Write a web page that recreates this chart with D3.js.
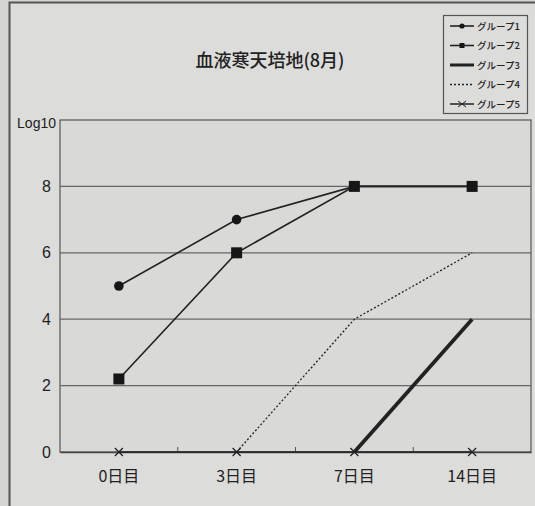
<!DOCTYPE html>
<html lang="ja">
<head>
    <meta charset="UTF-8">
    <title>血液寒天培地(8月)</title>
    <script src="https://d3js.org/d3.v7.min.js"></script>
    <style>
        body { margin: 0; background: #d5d5d3; }
        text { font-family: "Liberation Sans", Arial, sans-serif; fill: #222; }
        .jp { font-family: "Noto Sans CJK JP", sans-serif; }
    </style>
</head>
<body>
    <svg width="535" height="506"></svg>

    <script>
        // Categories and series (log10 counts)
        const days = ["0日目", "3日目", "7日目", "14日目"];
        const group1 = [5, 7, 8, 8];
        const group2 = [2.2, 6, 8, 8];
        const group3 = [null, null, 0, 4];
        const group4 = [null, 0, 4, 6];
        const group5 = [0, 0, 0, 0];
        const yTicks = [0, 2, 4, 6, 8];
        const legendNames = ["グループ1", "グループ2", "グループ3", "グループ4", "グループ5"];

        const svg = d3.select("svg");
        const plot = { left: 60, right: 531, top: 120, bottom: 452 };

        // outer frame
        svg.append("rect")
            .attr("x", 9.5).attr("y", 2.5)
            .attr("width", 540).attr("height", 520)
            .attr("fill", "#dcdcda")
            .attr("stroke", "#555").attr("stroke-width", 2);

        const x = d3.scaleBand().domain(days).range([plot.left, plot.right]);
        const y = d3.scaleLinear().domain([0, 10]).range([plot.bottom, plot.top]);
        const cx = d => x(d) + x.bandwidth() / 2;

        // plot area frame
        svg.append("rect")
            .attr("x", plot.left).attr("y", plot.top)
            .attr("width", plot.right - plot.left).attr("height", plot.bottom - plot.top)
            .attr("fill", "#d9d9d7")
            .attr("stroke", "#555").attr("stroke-width", 1.2);

        // horizontal gridlines
        svg.append("g").selectAll("line")
            .data(yTicks.filter(t => t > 0))
            .join("line")
            .attr("x1", plot.left).attr("x2", plot.right)
            .attr("y1", d => y(d)).attr("y2", d => y(d))
            .attr("stroke", "#666").attr("stroke-width", 1.2);

        // y axis labels
        const yAxis = svg.append("g")
            .attr("transform", `translate(${plot.left},0)`)
            .call(d3.axisLeft(y).tickValues(yTicks).tickSize(0).tickPadding(9));
        yAxis.select(".domain").remove();
        yAxis.selectAll("text")
            .style("font-family", "'Liberation Sans', Arial, sans-serif")
            .style("font-size", "16px").attr("fill", "#222");

        svg.append("text")
            .attr("x", 56).attr("y", 128)
            .attr("text-anchor", "end")
            .style("font-size", "14px")
            .text("Log10");

        // x axis (tick marks between categories)
        const xAxis = svg.append("g")
            .attr("transform", `translate(0,${plot.bottom})`)
            .call(d3.axisBottom(x).tickSize(0).tickPadding(19));
        xAxis.select(".domain").attr("stroke", "#444").attr("stroke-width", 1.5);
        xAxis.selectAll("text")
            .attr("class", "jp")
            .style("font-family", "'Noto Sans CJK JP', sans-serif")
            .style("font-size", "16px").attr("fill", "#222");
        svg.append("g").selectAll("line")
            .data(days.slice(1))
            .join("line")
            .attr("x1", d => x(d)).attr("x2", d => x(d))
            .attr("y1", plot.bottom).attr("y2", plot.bottom - 5)
            .attr("stroke", "#555").attr("stroke-width", 1);

        // title
        svg.append("text")
            .attr("class", "jp")
            .attr("x", 270).attr("y", 67)
            .attr("text-anchor", "middle")
            .style("font-size", "18px").style("font-weight", "500")
            .text("血液寒天培地(8月)");

        const line = d3.line()
            .defined(d => d.v !== null)
            .x(d => cx(d.day))
            .y(d => y(d.v));
        const pts = vals => days.map((day, i) => ({ day: day, v: vals[i] }));

        const series = [
            { vals: group5, width: 1.5, dash: null, marker: "x" },
            { vals: group4, width: 1.3, dash: "2,2", marker: null },
            { vals: group3, width: 3.8, dash: null, marker: null },
            { vals: group1, width: 1.6, dash: null, marker: "circle" },
            { vals: group2, width: 1.6, dash: null, marker: "square" }
        ];

        function drawMarker(g, type, px, py) {
            if (type === "circle") {
                g.append("circle").attr("cx", px).attr("cy", py).attr("r", 4.8).attr("fill", "#161616");
            } else if (type === "square") {
                g.append("rect").attr("x", px - 5.5).attr("y", py - 5.5)
                    .attr("width", 11).attr("height", 11).attr("fill", "#161616");
            } else if (type === "x") {
                g.append("path")
                    .attr("d", `M${px - 4},${py - 4}L${px + 4},${py + 4}M${px - 4},${py + 4}L${px + 4},${py - 4}`)
                    .attr("stroke", "#222").attr("stroke-width", 1.3);
            }
        }

        series.forEach(s => {
            const g = svg.append("g");
            g.append("path")
                .datum(pts(s.vals))
                .attr("fill", "none")
                .attr("stroke", "#222")
                .attr("stroke-width", s.width)
                .attr("stroke-dasharray", s.dash)
                .attr("d", line);
            if (s.marker) {
                pts(s.vals).filter(d => d.v !== null)
                    .forEach(d => drawMarker(g, s.marker, cx(d.day), y(d.v)));
            }
        });

        // legend
        const legend = svg.append("g");
        legend.append("rect")
            .attr("x", 443.5).attr("y", 15.5).attr("width", 84).attr("height", 98)
            .attr("fill", "#dcdcda").attr("stroke", "#555").attr("stroke-width", 1.2);
        const legendSeries = [series[3], series[4], series[2], series[1], series[0]];
        legendNames.forEach((name, i) => {
            const ly = 26 + i * 19.5;
            const s = legendSeries[i];
            legend.append("line")
                .attr("x1", 450).attr("x2", 474).attr("y1", ly).attr("y2", ly)
                .attr("stroke", "#222")
                .attr("stroke-width", s.width > 3 ? 3 : s.width)
                .attr("stroke-dasharray", s.dash);
            if (s.marker === "circle") {
                legend.append("circle").attr("cx", 462).attr("cy", ly).attr("r", 2.6).attr("fill", "#161616");
            } else if (s.marker === "square") {
                legend.append("rect").attr("x", 459.5).attr("y", ly - 2.5).attr("width", 5).attr("height", 5).attr("fill", "#161616");
            } else if (s.marker === "x") {
                legend.append("path")
                    .attr("d", `M458,${ly - 3}L466,${ly + 3}M458,${ly + 3}L466,${ly - 3}`)
                    .attr("stroke", "#222").attr("stroke-width", 1);
            }
            legend.append("text")
                .attr("class", "jp")
                .attr("x", 477).attr("y", ly + 3.5)
                .style("font-size", "9.5px").style("font-weight", "500")
                .text(name);
        });
    </script>
</body>
</html>
